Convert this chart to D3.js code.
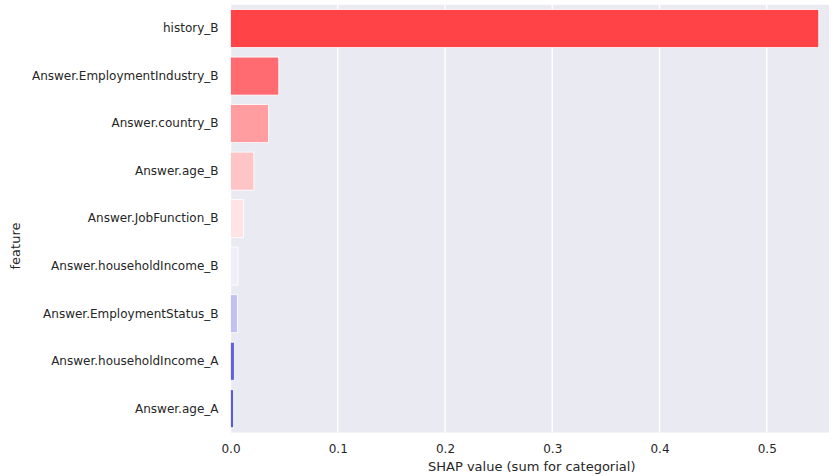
<!DOCTYPE html>
<html>
<head>
<meta charset="utf-8">
<script src="https://cdn.jsdelivr.net/npm/d3@7"></script>
<style>
  html, body { margin: 0; padding: 0; background: #ffffff; }
  svg { display: block; }
  text { font-family: "DejaVu Sans", sans-serif; fill: #262626; }
</style>
</head>
<body>
<svg id="chart" width="834" height="476"></svg>
<script>
const features = [
  "history_B",
  "Answer.EmploymentIndustry_B",
  "Answer.country_B",
  "Answer.age_B",
  "Answer.JobFunction_B",
  "Answer.householdIncome_B",
  "Answer.EmploymentStatus_B",
  "Answer.householdIncome_A",
  "Answer.age_A"
];
const shapValues = [0.5485, 0.045, 0.0355, 0.0218, 0.0122, 0.0070, 0.0064, 0.0036, 0.0029];
const barColors = ["#ff4347", "#ff6b70", "#ff9da0", "#ffc5c6", "#ffe4e6", "#f0eefb", "#c2c2f2", "#6060e6", "#5858e2"];
const xTicks = [0.0, 0.1, 0.2, 0.3, 0.4, 0.5];
const xLabel = "SHAP value (sum for categorial)";
const yLabel = "feature";

const svg = d3.select("#chart");
const plot = { left: 230.5, right: 829, top: 4.8, bottom: 432.5 };
const unitPx = 1072.5; // pixels per 1.0

const x = d3.scaleLinear()
  .domain([0, (plot.right - plot.left) / unitPx])
  .range([plot.left, plot.right]);
const y = d3.scaleBand()
  .domain(features)
  .range([plot.top, plot.bottom])
  .paddingInner(0.2)
  .paddingOuter(0.1);

// background
svg.append("rect")
  .attr("x", plot.left).attr("y", plot.top)
  .attr("width", plot.right - plot.left).attr("height", plot.bottom - plot.top)
  .attr("fill", "#eaeaf2");

// gridlines
svg.append("g").selectAll("line").data(xTicks).join("line")
  .attr("x1", d => x(d)).attr("x2", d => x(d))
  .attr("y1", plot.top).attr("y2", plot.bottom)
  .attr("stroke", "#ffffff").attr("stroke-width", 1.4);

// bars
svg.append("g").selectAll("rect").data(features).join("rect")
  .attr("x", x(0))
  .attr("y", d => y(d))
  .attr("width", (d, i) => x(shapValues[i]) - x(0))
  .attr("height", y.bandwidth())
  .attr("fill", (d, i) => barColors[i])
  .attr("stroke", "#ffffff")
  .attr("stroke-width", 0.8);

// x axis
const xAxis = d3.axisBottom(x).tickValues(xTicks).tickFormat(d3.format(".1f")).tickSize(0).tickPadding(12);
const gx = svg.append("g").attr("transform", `translate(0,${plot.bottom})`).call(xAxis);
gx.select(".domain").remove();
gx.selectAll("text").style("font-size", "12px").style("font-family", "DejaVu Sans").attr("fill", "#262626");

// y axis
const yAxis = d3.axisLeft(y).tickSize(0).tickPadding(12);
const gy = svg.append("g").attr("transform", `translate(${plot.left},0)`).call(yAxis);
gy.select(".domain").remove();
gy.selectAll("text").style("font-size", "12px").style("font-family", "DejaVu Sans").attr("fill", "#262626");

// axis labels
svg.append("text")
  .attr("x", (plot.left + plot.right) / 2 + 2)
  .attr("y", 471)
  .attr("text-anchor", "middle")
  .style("font-size", "13px")
  .text(xLabel);

svg.append("text")
  .attr("transform", `translate(20,246) rotate(-90)`)
  .attr("text-anchor", "middle")
  .style("font-size", "13px")
  .text(yLabel);
</script>
</body>
</html>
